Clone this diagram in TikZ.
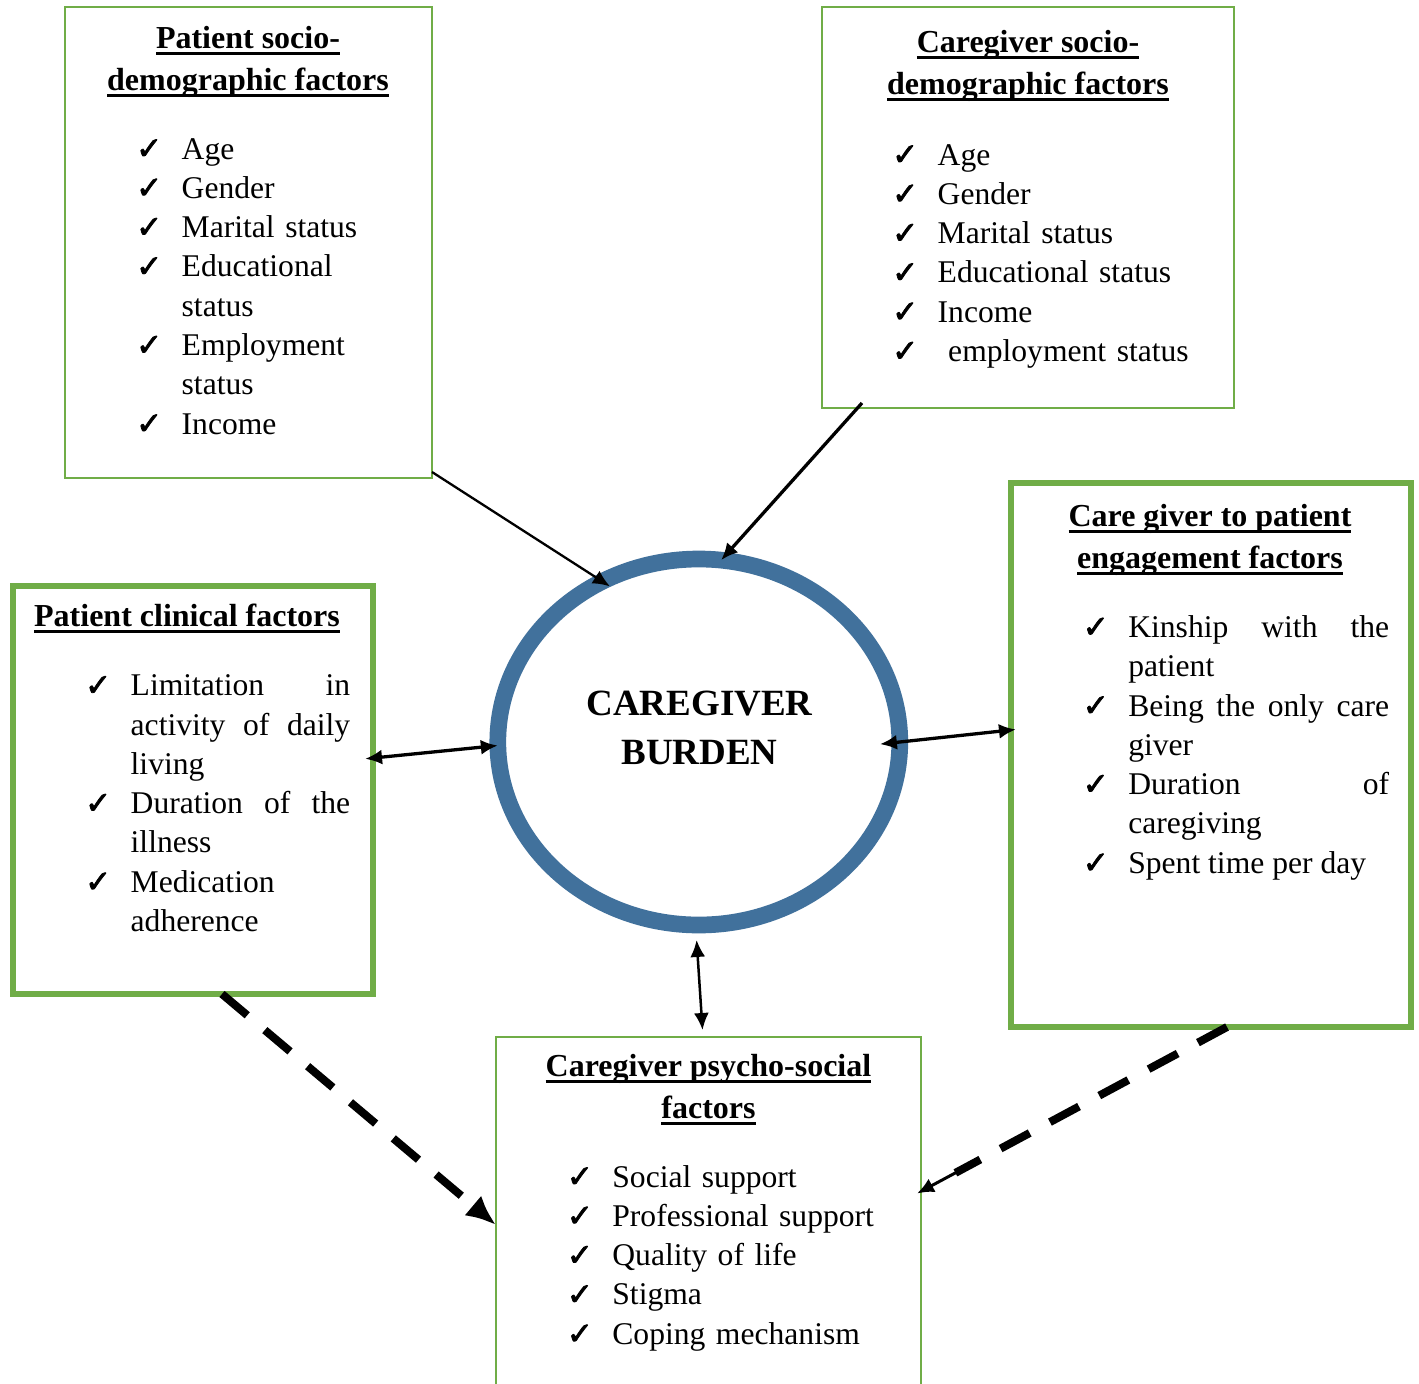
\documentclass[tikz,border=0pt]{standalone}
\usepackage{fontspec}
\setmainfont{Liberation Serif}
\newfontface\tickfont{DejaVu Sans}[FakeBold=2.5]
\usetikzlibrary{arrows.meta,shapes.geometric,calc}

\definecolor{boxgreen}{RGB}{112,173,71}
\definecolor{ringblue}{RGB}{65,113,156}

\hbadness=10000
\hyphenpenalty=10000
\exhyphenpenalty=10000
\newsavebox{\titlebox}
\newcommand{\uln}[1]{\sbox{\titlebox}{#1}\rlap{\rule[-6.5pt]{\wd\titlebox}{3pt}}\usebox{\titlebox}}

\newcommand{\tickitem}{\hangindent=45.5pt\hangafter=1\noindent
  \makebox[45.5pt][l]{\tickfont\fontsize{31}{31}\selectfont ✓}}

\begin{document}
\begin{tikzpicture}[x=1pt,y=-1pt,
  box/.style={draw=boxgreen,line width=2pt,outer sep=0pt,inner sep=0pt},
  thickbox/.style={box,line width=6pt},
  title/.style={font=\fontsize{32}{42}\selectfont\bfseries,align=center,anchor=base,inner sep=0pt},
  items/.style={font=\fontsize{31.6}{39.3}\selectfont,anchor=base west,inner sep=0pt,text width=#1},
  link/.style={line width=3.3pt,-{Latex[length=17pt,width=15pt]}},
  both/.style={line width=3.3pt,{Latex[length=17pt,width=15pt]}-{Latex[length=17pt,width=15pt]}},
  dashlink/.style={line width=8pt,dash pattern=on 33pt off 23pt}]
\fill[white] (0,0) rectangle (1419,1384);
\useasboundingbox (0,0) rectangle (1419,1384);
\clip (0,0) rectangle (1419,1384);

\node[ellipse,draw=ringblue,line width=16.7pt,minimum width=402pt,minimum height=366pt,outer sep=0pt] (burden) at (698.8,742) {};
\node[font=\fontsize{37}{49}\selectfont\bfseries,align=center,anchor=base,inner sep=0pt] (burdentext) at (699.5,764) {CAREGIVER\\BURDEN};

\node[box,minimum width=367pt,minimum height=471pt] (psd) at (248.5,242.5) {};
\node[title] (psdtitle) at (248,90) {\uln{Patient socio-}\\\uln{demographic factors}};
\node[items=265pt,align=left] (psdlist) at (136,159) {\tickitem Age\par
  \tickitem Gender\par
  \tickitem Marital status\par
  \tickitem Educational status\par
  \tickitem Employment status\par
  \tickitem Income\par};

\node[box,minimum width=412pt,minimum height=401pt] (csd) at (1028,207.5) {};
\node[title] (csdtitle) at (1028,94.3) {\uln{Caregiver socio-}\\\uln{demographic factors}};
\node[items=338pt,align=left] (csdlist) at (892,165) {\tickitem Age\par
  \tickitem Gender\par
  \tickitem Marital status\par
  \tickitem Educational status\par
  \tickitem Income\par
  \tickitem\ employment status\par};

\node[thickbox,minimum width=360pt,minimum height=408pt] (clin) at (193,790) {};
\node[title] (clintitle) at (187,626.7) {\uln{Patient clinical factors}};
\node[items=265pt,align=justify] (clinlist) at (85,695.7) {\tickitem Limitation in\linebreak activity of daily\linebreak living\par
  \tickitem Duration of the\linebreak illness\par
  \tickitem Medication\linebreak adherence\par};

\node[thickbox,minimum width=400pt,minimum height=544pt] (eng) at (1211,755) {};
\node[title] (engtitle) at (1210,568.4) {\uln{Care giver to patient}\\\uln{engagement factors}};
\node[items=306.4pt,align=justify] (englist) at (1082.6,637.4) {\tickitem Kinship with the\linebreak patient\par
  \tickitem Being the only care\linebreak giver\par
  \tickitem Duration of\linebreak caregiving\par
  \tickitem Spent time per day\par};

\node[box,minimum width=425pt,minimum height=363pt] (psy) at (708.5,1218.5) {};
\node[title] (psytitle) at (708.5,1118) {\uln{Caregiver psycho-social}\\\uln{factors}};
\node[items=348pt,align=left] (psylist) at (566.7,1187) {\tickitem Social support\par
  \tickitem Professional support\par
  \tickitem Quality of life\par
  \tickitem Stigma\par
  \tickitem Coping mechanism\par};

\draw[link,line width=2.3pt,shorten >=-9pt] ([yshift=6pt]psd.south east) -- (burden.121.7);
\draw[link] ([xshift=40pt,yshift=5pt]csd.south west) -- (burden.83.4);
\draw[both,shorten <=-8pt] ([yshift=32pt]clin.east) -- (burden.181.5);
\draw[both,shorten <=-20pt,shorten >=-5pt] (burden.0.9) -- ([yshift=25pt]eng.west);
\draw[both,line width=2.5pt,shorten <=15pt,shorten >=7pt] (burden.269) -- ([xshift=-5.5pt]psy.north);

\draw[dashlink,-{Latex[length=30pt,width=26pt]}] ([xshift=29pt]clin.south) -- ([yshift=-6.5pt]psy.west);
\coordinate (engfoot) at ([xshift=16pt]eng.south);
\coordinate (psyside) at ([xshift=-4pt,yshift=25pt]psy.east);
\draw[dashlink] (engfoot) -- ($(engfoot)!0.876!(psyside)$);
\draw[link,line width=3pt] ($(engfoot)!0.85!(psyside)$) -- (psyside);
\end{tikzpicture}
\end{document}
